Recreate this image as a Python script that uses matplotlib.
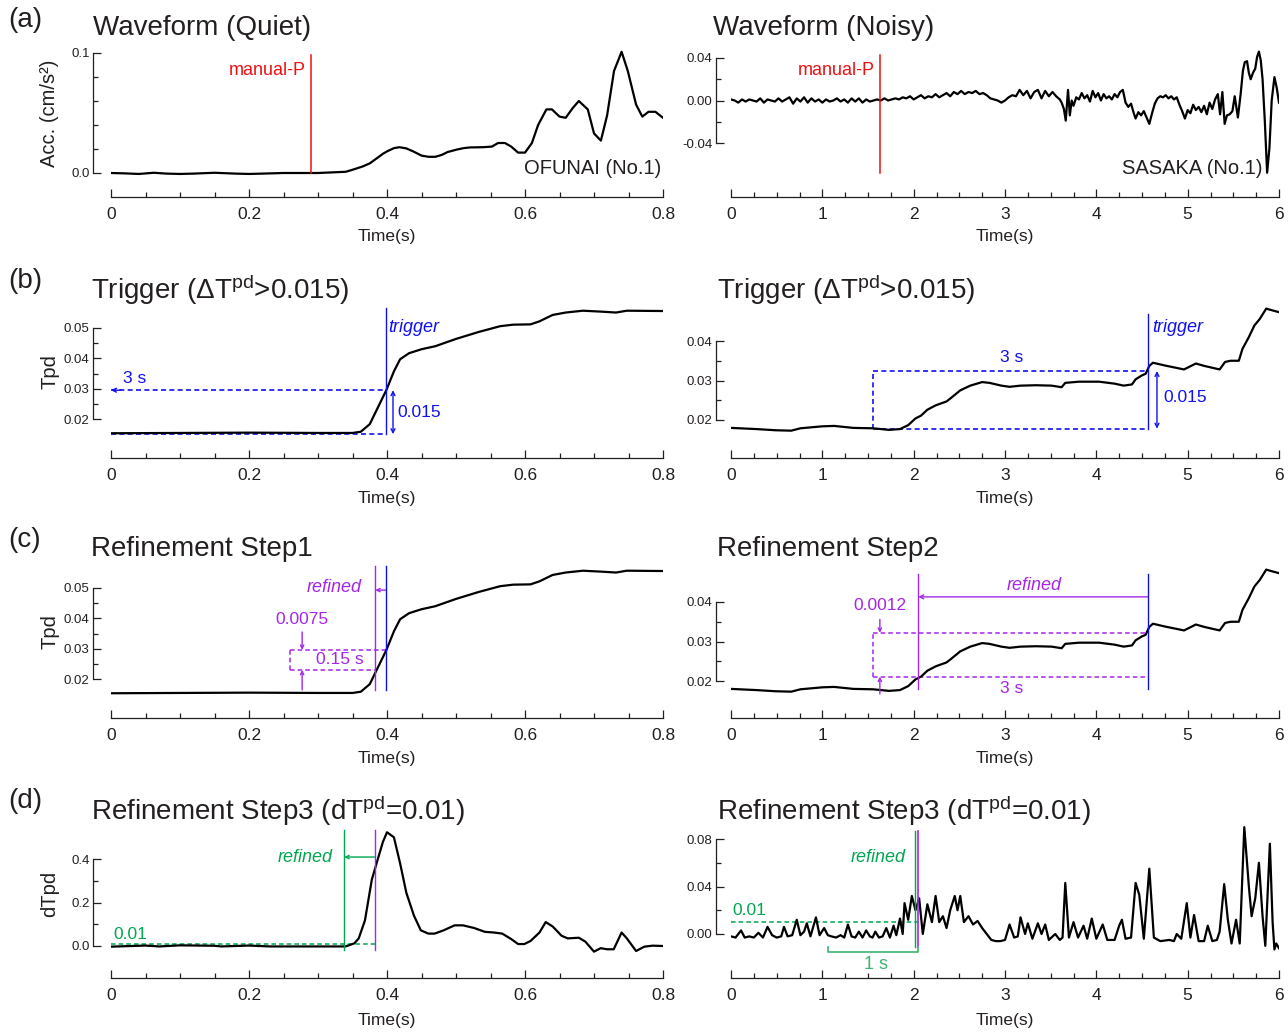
import matplotlib
matplotlib.use('Agg')
import matplotlib.pyplot as plt
from matplotlib import font_manager
import numpy as np

plt.rcParams['font.family'] = ['Liberation Sans', 'DejaVu Sans']
plt.rcParams['mathtext.fontset'] = 'custom'
plt.rcParams['mathtext.rm'] = 'Liberation Sans'
plt.rcParams['mathtext.it'] = 'Liberation Sans:italic'

_names = {f.name for f in font_manager.fontManager.ttflist}
HAS_NARROW = 'Liberation Sans Narrow' in _names
NARROW = ['Liberation Sans Narrow', 'Liberation Sans'] if HAS_NARROW else ['Liberation Sans']
XFS = 14 if HAS_NARROW else 12.5

# ---------------- data (values x1e-3) ----------------
# (a) quiet waveform, OFUNAI: (time s, acc x1e-3)
quiet_wave = [(0, 0), (0.02, -0.3), (0.04, -0.8), (0.062, 0.2), (0.08, -0.5), (0.10, -0.8),
              (0.12, -0.5), (0.15, 0.2), (0.18, -0.5), (0.20, -0.8), (0.22, -0.5), (0.25, 0),
              (0.28, 0), (0.30, 0), (0.32, 0.5), (0.34, 1), (0.349, 2.5), (0.365, 5.5),
              (0.375, 8), (0.387, 13), (0.394, 16), (0.400, 18), (0.41, 20.7), (0.418, 21.5),
              (0.428, 20.5), (0.438, 18), (0.45, 14.5), (0.46, 13.5), (0.47, 13.5), (0.479, 15),
              (0.488, 17.5), (0.501, 19.5), (0.511, 20.7), (0.52, 21.3), (0.539, 21.5),
              (0.552, 22), (0.561, 25), (0.571, 25), (0.58, 22), (0.59, 17), (0.60, 17),
              (0.61, 25), (0.619, 40), (0.631, 53), (0.639, 53), (0.65, 47), (0.659, 46),
              (0.669, 54), (0.678, 60), (0.691, 53), (0.70, 33), (0.71, 27), (0.719, 48),
              (0.729, 85), (0.74, 101), (0.749, 85), (0.761, 57), (0.77, 47), (0.779, 51),
              (0.789, 51), (0.80, 46)]

# (a) noisy waveform, SASAKA: uniform 0.04 s segments + detailed tail
noisy_wave_seg1_start = 0.0
noisy_wave_seg1 = [1, 0, -2, 1, -1, 1, 0, -1, 2, -2, 1, 0, -1, 2, -1, 1, 3, -3, 2, -1, 3, -2, 2,
                   -1, 1, -2, 1, -1, 0, 2, -1, 1, -2, 2, -1, 2, -2, 1, -1, 0, 1]
noisy_wave_seg2_start = 1.64
noisy_wave_seg2 = [0, 2, 0, 1, 2, 1, 3, 2, 4, 1, 3, 5, 2, 4, 3, 6, 3, 5, 7, 4, 8, 6, 9, 6, 8,
                   7, 9, 6, 7, 5]
noisy_wave_seg3_start = 2.84
noisy_wave_seg3 = [2, 1, 0, -2, 0, 3, 5, 4, 10, 5, 9, 2, 8, 10, 2, 9, 4, 8, 4, 1]
noisy_wave_tail = [(3.62, -2), (3.645, -8), (3.665, -19), (3.69, 10), (3.71, -14), (3.73, 0),
                   (3.75, -5), (3.78, 3), (3.81, 1), (3.84, 7), (3.87, 2), (3.90, 5), (3.93, -1),
                   (3.96, 9), (3.99, 3), (4.02, 7), (4.05, 0), (4.08, 6), (4.11, 2), (4.14, 4),
                   (4.17, 1), (4.20, 6), (4.23, 3), (4.26, 8), (4.29, 10), (4.32, -2), (4.35, -6),
                   (4.38, -3), (4.41, -12), (4.43, -17), (4.46, -11), (4.49, -14), (4.52, -10),
                   (4.55, -16), (4.58, -22), (4.61, -12), (4.64, -3), (4.67, 2), (4.70, 4),
                   (4.73, 3), (4.76, 5), (4.79, 2), (4.82, 4), (4.85, 1), (4.88, 3), (4.91, -4),
                   (4.94, -10), (4.97, -17), (5.00, -9), (5.03, -12), (5.06, -4), (5.09, -9),
                   (5.12, -6), (5.15, -11), (5.18, -5), (5.21, -13), (5.24, -2), (5.27, -8),
                   (5.30, 1), (5.33, 6), (5.355, -13), (5.38, 8), (5.405, -22), (5.43, -14),
                   (5.46, -13), (5.49, -10), (5.515, 4), (5.55, -16), (5.58, 6), (5.605, 28),
                   (5.625, 36), (5.65, 37), (5.67, 26), (5.69, 20), (5.715, 26), (5.74, 30),
                   (5.76, 41), (5.78, 46), (5.80, 38), (5.82, 20), (5.845, -20), (5.87, -68),
                   (5.895, -45), (5.92, 0), (5.95, 22), (5.975, 12), (6.0, -2)]

# (b),(c) Tpd quiet
tpd_quiet = [(0, 15.3), (0.1, 15.4), (0.2, 15.5), (0.3, 15.4), (0.35, 15.4), (0.362, 15.8),
             (0.375, 18.3), (0.387, 23.9), (0.399, 29.5), (0.41, 35.7), (0.419, 39.7),
             (0.432, 41.7), (0.45, 43.0), (0.47, 44.0), (0.50, 46.4), (0.533, 48.7),
             (0.564, 50.6), (0.583, 51.1), (0.608, 51.2), (0.621, 52.2), (0.64, 54.3),
             (0.659, 55.1), (0.684, 55.7), (0.71, 55.4), (0.732, 55.1), (0.7475, 55.7),
             (0.8, 55.6)]

# (b),(c) Tpd noisy
tpd_noisy = [(0, 18.0), (0.28, 17.7), (0.49, 17.4), (0.66, 17.3), (0.76, 17.9), (1.0, 18.4),
             (1.13, 18.5), (1.34, 18.0), (1.555, 17.9), (1.73, 17.5), (1.85, 17.7), (1.94, 18.7),
             (2.02, 20.4), (2.08, 21.1), (2.15, 22.6), (2.24, 23.7), (2.36, 24.7), (2.41, 25.6),
             (2.51, 27.5), (2.62, 28.7), (2.75, 29.6), (2.83, 29.4), (2.96, 28.7), (3.05, 28.4),
             (3.17, 28.7), (3.34, 28.8), (3.51, 28.7), (3.62, 28.3), (3.66, 29.4), (3.81, 29.7),
             (4.03, 29.7), (4.2, 29.2), (4.30, 28.7), (4.39, 29.0), (4.43, 30.3), (4.5, 31.3),
             (4.54, 31.7), (4.58, 33.7), (4.62, 34.5), (4.75, 33.8), (4.96, 32.8), (5.09, 34.3),
             (5.18, 33.7), (5.35, 32.8), (5.41, 34.7), (5.47, 35.0), (5.56, 35.0), (5.60, 38.0),
             (5.67, 41.0), (5.73, 43.9), (5.79, 45.6), (5.86, 48.2), (5.92, 47.8), (6.0, 47.3)]

# (d) dTpd quiet
dtpd_quiet = [(0, -3), (0.05, 2), (0.07, -2), (0.10, 3), (0.15, 1), (0.16, -2), (0.20, 2),
              (0.23, -2), (0.30, -2), (0.340, -2), (0.3526, 12), (0.359, 35), (0.368, 117),
              (0.378, 305), (0.387, 403), (0.394, 478), (0.40, 523), (0.41, 500), (0.419, 380),
              (0.428, 245), (0.439, 140), (0.449, 72), (0.46, 57), (0.469, 57), (0.482, 72),
              (0.498, 95), (0.51, 95), (0.526, 83), (0.542, 65), (0.555, 62), (0.567, 57),
              (0.58, 32), (0.59, 9), (0.599, 9), (0.608, 23), (0.621, 62), (0.63, 110),
              (0.64, 90), (0.653, 47), (0.662, 35), (0.678, 38), (0.6875, 20), (0.70, -26),
              (0.7097, -10), (0.719, -15), (0.7286, -15), (0.74, 62), (0.7476, 35),
              (0.761, -23), (0.773, -3), (0.785, 1.5), (0.80, 0)]

# (d) dTpd noisy
dtpd_noisy = [(0.0, -2), (0.05, -3), (0.11, 3), (0.15, -3), (0.2, -2), (0.25, -3), (0.3, 1),
              (0.35, -3), (0.4, 6), (0.45, -1), (0.5, -3), (0.55, -2), (0.58, 6), (0.62, -2),
              (0.67, -1), (0.72, 12), (0.76, -1), (0.8, 2), (0.83, 9), (0.87, -2), (0.93, 14),
              (0.97, -1), (1.02, 5), (1.06, -1), (1.1, -2), (1.15, -3), (1.2, -1), (1.24, -3),
              (1.28, 8), (1.32, -2), (1.36, -3), (1.4, 2), (1.44, -3), (1.48, 3), (1.52, -2),
              (1.55, -3), (1.58, 2), (1.62, -3), (1.66, -2), (1.7, 5), (1.74, -3), (1.78, 7),
              (1.81, -1), (1.85, 13), (1.88, 0), (1.9, 26), (1.94, 12), (1.98, 32), (2.02, 20),
              (2.06, 30), (2.1, 0), (2.15, 25), (2.2, 10), (2.24, 32), (2.28, 10), (2.32, 15),
              (2.36, 5), (2.4, 20), (2.45, 32), (2.48, 20), (2.51, 32), (2.55, 10), (2.6, 15),
              (2.65, 8), (2.7, 11), (2.75, 5), (2.8, 0), (2.85, -5), (2.9, -6), (2.95, -6),
              (3.0, -5), (3.05, 8), (3.1, -3), (3.14, -2), (3.17, 14), (3.22, 0), (3.25, 9),
              (3.3, -4), (3.36, 9), (3.4, 0), (3.44, 8), (3.48, -5), (3.55, 0), (3.6, -5),
              (3.63, -3), (3.66, 43), (3.7, -3), (3.75, 10), (3.8, -3), (3.86, 7), (3.9, -4),
              (3.95, 13), (4.0, -4), (4.07, 8), (4.12, -5), (4.2, -5), (4.25, 7), (4.28, 12),
              (4.32, -4), (4.38, -3), (4.43, 43), (4.47, 33), (4.52, -4), (4.58, 55), (4.63, -3),
              (4.7, -6), (4.8, -5), (4.85, -6), (4.88, 0), (4.93, -4), (4.99, 26), (5.03, -3),
              (5.07, 16), (5.12, -6), (5.18, -6), (5.22, 7), (5.27, -6), (5.32, -5), (5.35, 2),
              (5.4, 42), (5.44, 12), (5.48, -8), (5.53, 12), (5.57, -8), (5.62, 90), (5.67, 40),
              (5.7, 15), (5.74, 30), (5.78, 60), (5.82, 15), (5.85, -10), (5.9, 76), (5.93, 10),
              (5.95, -13), (5.97, -8), (6.0, -12)]

left_xticks = [0, 0.2, 0.4, 0.6, 0.8]
left_xticklabels = ['0', '0.2', '0.4', '0.6', '0.8']
right_xticks = [0, 1, 2, 3, 4, 5, 6]
right_xticklabels = ['0', '1', '2', '3', '4', '5', '6']

# ---------------- styling ----------------
W, H = 1288, 1034
TXT = '#231f20'
RED = '#ee1111'
BLUE = '#1010f0'
PURPLE = '#a526ea'
GREEN = '#00a651'
GREEN2 = '#3cb371'
DASH = (0, (3, 2))

fig = plt.figure(figsize=(W / 100, H / 100), dpi=100)


def xy(pairs, scale=1e-3):
    a = np.array(pairs, float)
    return a[:, 0], a[:, 1] * scale


def uniform(start, vals, dt=0.04, scale=1e-3):
    v = np.array(vals, float) * scale
    return start + dt * np.arange(len(v)), v


def ftext(x, y, s, **kw):
    kw.setdefault('color', TXT)
    fig.text(x / W, 1 - y / H, s, **kw)


def make_ax(x0, x1, xlim, ylim, cal, spine_x, spine_y, ybounds, yticks, ylabels, yminor,
            xticks, xlabels, xminor):
    (v1, p1), (v2, p2) = cal
    s = (p1 - p2) / (v2 - v1)
    ytop = p1 - (ylim[1] - v1) * s
    ybot = p1 - (ylim[0] - v1) * s
    ax = fig.add_axes([x0 / W, 1 - ybot / H, (x1 - x0) / W, (ybot - ytop) / H])
    ax.set_xlim(xlim)
    ax.set_ylim(ylim)
    ax.patch.set_alpha(0)
    for k in ['top', 'right']:
        ax.spines[k].set_visible(False)
    for k in ['left', 'bottom']:
        ax.spines[k].set_color(TXT)
        ax.spines[k].set_linewidth(0.9)
    ax.spines['left'].set_position(('outward', (x0 - spine_x) * 0.72))
    ax.spines['left'].set_bounds(*ybounds)
    ax.spines['bottom'].set_position(('outward', (spine_y - ybot) * 0.72))
    ax.spines['bottom'].set_bounds(*xlim)
    ax.set_xticks(xticks)
    ax.set_xticklabels(xlabels, family=NARROW)
    ax.set_xticks(xminor, minor=True)
    ax.set_yticks(yticks)
    ax.set_yticklabels(ylabels)
    ax.set_yticks(yminor, minor=True)
    ax.tick_params(axis='x', which='major', direction='in', length=6, width=0.9,
                   pad=7.5, labelsize=XFS, colors=TXT)
    ax.tick_params(axis='x', which='minor', direction='in', length=3.5, width=0.9, colors=TXT)
    ax.tick_params(axis='y', which='major', direction='in', length=6, width=0.9,
                   pad=2.5, labelsize=9.5, colors=TXT)
    ax.tick_params(axis='y', which='minor', direction='in', length=3.5, width=0.9, colors=TXT)
    return ax


LX0, LX1 = 111, 663
RX0, RX1 = 731, 1279
LSX, RSX = 93, 716
lminor = list(np.arange(0, 0.8001, 0.05))
rminor = list(np.arange(0, 6.001, 0.25))

def left_ax(ylim, cal, spine_y, yb, yt, yl, ym):
    return make_ax(LX0, LX1, (0, 0.8), ylim, cal, LSX, spine_y, yb, yt, yl, ym,
                   left_xticks, left_xticklabels, lminor)

def right_ax(ylim, cal, spine_y, yb, yt, yl, ym):
    return make_ax(RX0, RX1, (0, 6), ylim, cal, RSX, spine_y, yb, yt, yl, ym,
                   right_xticks, right_xticklabels, rminor)

tpd_minor_l = [0.02, 0.025, 0.03, 0.035, 0.04, 0.045, 0.05]
tpd_minor_r = [0.02, 0.025, 0.03, 0.035, 0.04]

axA = left_ax((-0.01, 0.11), ((0.0, 173), (0.1, 53)), 197, (0, 0.1), [0, 0.1], ['0.0', '0.1'],
              [0, 0.02, 0.04, 0.06, 0.08, 0.1])
axAr = right_ax((-0.075, 0.055), ((-0.04, 143), (0.04, 58)), 197, (-0.04, 0.04),
                [-0.04, 0, 0.04], ['-0.04', '0.00', '0.04'], [-0.04, -0.02, 0, 0.02, 0.04])
axB = left_ax((0.012, 0.058), ((0.02, 419), (0.05, 328)), 458, (0.02, 0.05),
              [0.02, 0.03, 0.04, 0.05], ['0.02', '0.03', '0.04', '0.05'], tpd_minor_l)
axBr = right_ax((0.014, 0.05), ((0.02, 420), (0.04, 341)), 458, (0.02, 0.04),
                [0.02, 0.03, 0.04], ['0.02', '0.03', '0.04'], tpd_minor_r)
axC = left_ax((0.012, 0.058), ((0.02, 679), (0.05, 588)), 718, (0.02, 0.05),
              [0.02, 0.03, 0.04, 0.05], ['0.02', '0.03', '0.04', '0.05'], tpd_minor_l)
axCr = right_ax((0.014, 0.05), ((0.02, 681), (0.04, 602)), 718, (0.02, 0.04),
                [0.02, 0.03, 0.04], ['0.02', '0.03', '0.04'], tpd_minor_r)
axD = left_ax((-0.05, 0.56), ((0.0, 946), (0.4, 859)), 978, (0, 0.4),
              [0, 0.2, 0.4], ['0.0', '0.2', '0.4'], [0, 0.1, 0.2, 0.3, 0.4])
axDr = right_ax((-0.03, 0.095), ((0.0, 934), (0.08, 839)), 978, (0, 0.08),
                [0, 0.04, 0.08], ['0.00', '0.04', '0.08'], [0, 0.02, 0.04, 0.06, 0.08])

LW = 1.6
# ---- curves ----
t, v = xy(quiet_wave)
axA.plot(t, v, color='k', lw=LW, zorder=3)

parts = [uniform(noisy_wave_seg1_start, noisy_wave_seg1),
         uniform(noisy_wave_seg2_start, noisy_wave_seg2),
         uniform(noisy_wave_seg3_start, noisy_wave_seg3),
         xy(noisy_wave_tail)]
tn = np.concatenate([p[0] for p in parts])
vn = np.concatenate([p[1] for p in parts])
axAr.plot(tn, vn, color='k', lw=LW, zorder=3)

tq, vq = xy(tpd_quiet)
tnz, vnz = xy(tpd_noisy)
for ax in (axB, axC):
    ax.plot(tq, vq, color='k', lw=LW, zorder=3)
for ax in (axBr, axCr):
    ax.plot(tnz, vnz, color='k', lw=LW, zorder=3)

t, v = xy(dtpd_quiet)
axD.plot(t, v, color='k', lw=LW, zorder=3)
t, v = xy(dtpd_noisy)
axDr.plot(t, v, color='k', lw=LW, zorder=3)


def arrow(ax, x0, y0, x1, y1, color, style='->', ms=8, lw=1.0):
    ax.annotate('', xy=(x1, y1), xytext=(x0, y0),
                arrowprops=dict(arrowstyle=style, color=color, lw=lw, shrinkA=0, shrinkB=0,
                                mutation_scale=ms), annotation_clip=False)

NUMFS = 13 if HAS_NARROW else 12.5

# ---- (a) annotations ----
axA.plot([0.29, 0.29], [0.0, 0.098], color=RED, lw=1.1, zorder=4)
axA.text(0.283, 0.0858, 'manual-P', color=RED, fontsize=13, ha='right', va='center')
axAr.plot([1.63, 1.63], [0.0428, -0.068], color=RED, lw=1.1, zorder=4)
axAr.text(1.577, 0.0287, 'manual-P', color=RED, fontsize=13, ha='right', va='center')
ftext(661, 168, 'OFUNAI (No.1)', fontsize=14.5, ha='right', va='center')
ftext(1262, 168, 'SASAKA (No.1)', fontsize=14.5, ha='right', va='center')

# ---- (b) left ----
trig_l = 0.398
axB.plot([trig_l, trig_l], [0.0150, 0.0566], color=BLUE, lw=1.0, zorder=4)
axB.plot([0.0, trig_l], [0.0295, 0.0295], color=BLUE, lw=1.2, ls=DASH, zorder=2)
axB.plot([0.0, trig_l], [0.0150, 0.0150], color=BLUE, lw=1.2, ls=DASH, zorder=2)
arrow(axB, 0.014, 0.0295, 0.0, 0.0295, BLUE, ms=7)
arrow(axB, 0.4087, 0.0295, 0.4087, 0.0150, BLUE, style='<->', ms=7)
axB.text(0.018, 0.0333, '3 s', color=BLUE, fontsize=NUMFS, family=NARROW, ha='left', va='center')
axB.text(0.4145, 0.0223, '0.015', color=BLUE, fontsize=NUMFS, family=NARROW, ha='left', va='center')
axB.text(0.402, 0.0503, 'trigger', color=BLUE, fontsize=13, style='italic',
         ha='left', va='center')

# ---- (b) right ----
trig_r = 4.566
box_l = 1.555
axBr.plot([trig_r, trig_r], [0.0178, 0.0468], color=BLUE, lw=1.0, zorder=4)
axBr.plot([box_l, trig_r], [0.0324, 0.0324], color=BLUE, lw=1.2, ls=DASH, zorder=2)
axBr.plot([box_l, trig_r], [0.0178, 0.0178], color=BLUE, lw=1.2, ls=DASH, zorder=2)
axBr.plot([box_l, box_l], [0.0178, 0.0324], color=BLUE, lw=1.2, ls=DASH, zorder=2)
arrow(axBr, 4.664, 0.0324, 4.664, 0.0178, BLUE, style='<->', ms=7)
axBr.text(3.077, 0.0357, '3 s', color=BLUE, fontsize=NUMFS, family=NARROW, ha='center', va='center')
axBr.text(4.73, 0.0256, '0.015', color=BLUE, fontsize=NUMFS, family=NARROW, ha='left', va='center')
axBr.text(4.61, 0.0435, 'trigger', color=BLUE, fontsize=13, style='italic',
          ha='left', va='center')

# ---- (c) left ----
ref1 = 0.383
axC.plot([trig_l, trig_l], [0.0164, 0.0573], color=BLUE, lw=1.0, zorder=4)
axC.plot([ref1, ref1], [0.0164, 0.0573], color=PURPLE, lw=1.0, zorder=4)
arrow(axC, trig_l, 0.0493, ref1, 0.0493, PURPLE, ms=6)
axC.text(0.364, 0.0503, 'refined', color=PURPLE, fontsize=13, style='italic',
         ha='right', va='center')
bl = 0.259
axC.plot([bl, trig_l], [0.0296, 0.0296], color=PURPLE, lw=1.1, ls=DASH, zorder=2)
axC.plot([bl, ref1], [0.0230, 0.0230], color=PURPLE, lw=1.1, ls=DASH, zorder=2)
axC.plot([bl, bl], [0.0230, 0.0296], color=PURPLE, lw=1.1, ls=DASH, zorder=2)
arrow(axC, 0.277, 0.0355, 0.277, 0.0296, PURPLE, ms=6)
arrow(axC, 0.277, 0.0164, 0.277, 0.0230, PURPLE, ms=6)
axC.text(0.277, 0.0395, '0.0075', color=PURPLE, fontsize=NUMFS, family=NARROW, ha='center', va='center')
axC.text(0.331, 0.0263, '0.15 s', color=PURPLE, fontsize=NUMFS, family=NARROW, ha='center', va='center')

# ---- (c) right ----
ref2 = 2.05
axCr.plot([trig_r, trig_r], [0.0180, 0.0471], color=BLUE, lw=1.0, zorder=4)
axCr.plot([ref2, ref2], [0.0180, 0.0471], color=PURPLE, lw=1.0, zorder=4)
arrow(axCr, trig_r, 0.0413, ref2, 0.0413, PURPLE, ms=7)
axCr.text(3.318, 0.0441, 'refined', color=PURPLE, fontsize=13, style='italic',
          ha='center', va='center')
axCr.plot([box_l, trig_r], [0.0322, 0.0322], color=PURPLE, lw=1.1, ls=DASH, zorder=2)
axCr.plot([box_l, trig_r], [0.0211, 0.0211], color=PURPLE, lw=1.1, ls=DASH, zorder=2)
axCr.plot([box_l, box_l], [0.0211, 0.0322], color=PURPLE, lw=1.1, ls=DASH, zorder=2)
arrow(axCr, 1.63, 0.0356, 1.63, 0.0322, PURPLE, ms=6)
arrow(axCr, 1.63, 0.0167, 1.63, 0.0211, PURPLE, ms=6)
axCr.text(1.63, 0.0392, '0.0012', color=PURPLE, fontsize=NUMFS, family=NARROW, ha='center', va='center')
axCr.text(3.077, 0.0180, '3 s', color=PURPLE, fontsize=NUMFS, family=NARROW, ha='center', va='center')

# ---- (d) left ----
ref3 = 0.338
axD.plot([0, ref1], [0.01, 0.01], color=GREEN, lw=1.1, ls=DASH, zorder=2)
axD.plot([ref3, ref3], [-0.018, 0.533], color=GREEN, lw=1.0, zorder=4)
axD.plot([ref1, ref1], [-0.018, 0.533], color=PURPLE, lw=1.0, zorder=4)
arrow(axD, ref1, 0.409, ref3, 0.409, GREEN, ms=6)
axD.text(0.3217, 0.409, 'refined', color=GREEN, fontsize=13, style='italic',
         ha='right', va='center')
axD.text(0.004, 0.055, '0.01', color=GREEN, fontsize=NUMFS, family=NARROW, ha='left', va='center')

# ---- (d) right ----
ref4 = 2.015
axDr.plot([0, ref2], [0.01, 0.01], color=GREEN, lw=1.1, ls=DASH, zorder=2)
axDr.plot([ref4, ref4], [-0.011, 0.0867], color=GREEN, lw=1.0, zorder=4)
axDr.plot([ref2, ref2], [-0.011, 0.0867], color=PURPLE, lw=1.2, zorder=4)
axDr.text(1.916, 0.0648, 'refined', color=GREEN, fontsize=13, style='italic',
          ha='right', va='center')
axDr.text(0.02, 0.0202, '0.01', color=GREEN, fontsize=NUMFS, family=NARROW, ha='left', va='center')
axDr.plot([1.062, 1.062, ref2, ref2], [-0.011, -0.0152, -0.0152, -0.011], color=GREEN2,
          lw=1.2, zorder=4, clip_on=False)
axDr.text(1.59, -0.0253, '1 s', color=GREEN2, fontsize=NUMFS + 0.5, family=NARROW,
          ha='center', va='center')

# ---- titles and labels ----
TFS = 20
for y, s in [(20, '(a)'), (281, '(b)'), (540, '(c)'), (801, '(d)')]:
    ftext(8, y, s, fontsize=TFS, ha='left', va='center')
ftext(93, 28, 'Waveform (Quiet)', fontsize=TFS, ha='left', va='center')
ftext(713, 28, 'Waveform (Noisy)', fontsize=TFS, ha='left', va='center')
trig_title = 'Trigger (\u0394T$^{\\mathrm{pd}}$>0.015)'
ftext(91, 290, trig_title, fontsize=TFS, ha='left', va='center')
ftext(717, 290, trig_title, fontsize=TFS, ha='left', va='center')
ftext(91, 549, 'Refinement Step1', fontsize=TFS, ha='left', va='center')
ftext(717, 549, 'Refinement Step2', fontsize=TFS, ha='left', va='center')
step3 = 'Refinement Step3 (dT$^{\\mathrm{pd}}$=0.01)'
ftext(91, 811, step3, fontsize=TFS, ha='left', va='center')
ftext(717, 811, step3, fontsize=TFS, ha='left', va='center')

YFS = 14.5
ftext(50, 113, 'Acc. (cm/s\u00b2)', fontsize=YFS, rotation=90, ha='center', va='center')
ftext(50, 372, 'Tpd', fontsize=YFS, rotation=90, ha='center', va='center')
ftext(50, 632, 'Tpd', fontsize=YFS, rotation=90, ha='center', va='center')
ftext(50, 894, 'dTpd', fontsize=YFS, rotation=90, ha='center', va='center')

for y in (237, 498, 759, 1020):
    ftext(387, y, 'Time(s)', fontsize=XFS, family=NARROW, ha='center', va='center')
    ftext(1005, y, 'Time(s)', fontsize=XFS, family=NARROW, ha='center', va='center')

fig.savefig('out.png', dpi=100)
